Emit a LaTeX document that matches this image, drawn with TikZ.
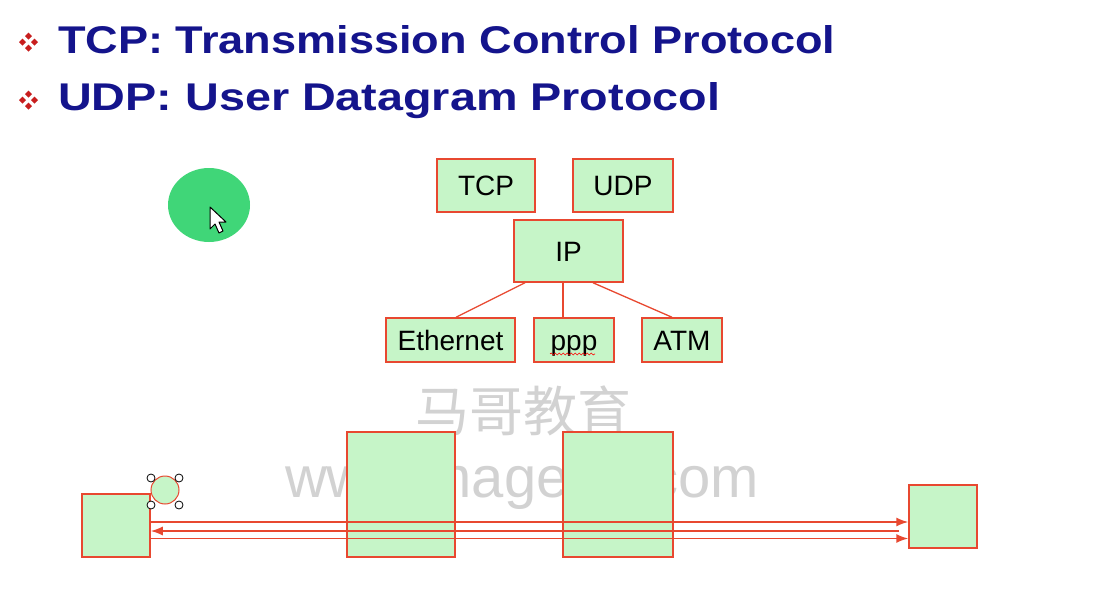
\documentclass[tikz,border=0pt]{standalone}
\usepackage{fontspec}
\setmainfont{Liberation Sans}
\newfontfamily\cjk{Noto Sans CJK SC}
\usetikzlibrary{arrows.meta,calc,decorations.pathmorphing}

\definecolor{boxfill}{RGB}{198,245,200}
\definecolor{boxline}{RGB}{232,72,48}
\definecolor{titleblue}{RGB}{20,20,140}
\definecolor{bulletred}{RGB}{200,30,30}
\definecolor{spotgreen}{RGB}{64,214,120}

\tikzset{
  layer/.style={draw=boxline, fill=boxfill, line width=1.5pt, inner sep=0pt,
    text height=20pt, text depth=0pt, font=\fontsize{28}{30}\selectfont},
  link/.style={draw=boxline, line width=1.3pt},
  flow/.style={draw=boxline, line width=1.5pt, -{Latex[length=12pt,width=9pt]}},
}

\begin{document}
\begin{tikzpicture}[x=1pt,y=-1pt]
		\useasboundingbox[fill=white] (0,0) rectangle (1112,597);

		% bullets
		\foreach \y in {42,100} {
			\foreach \dx/\dy in {-6/0,6/0,0/-6,0/6}
				\fill[bulletred] (28.5+\dx,\y+\dy-3.5) -- ++(3.5,3.5) -- ++(-3.5,3.5) -- ++(-3.5,-3.5) -- cycle;
		}
		\node[anchor=base west, inner sep=0pt, text=titleblue] (tcpline) at (58,53)
			{\resizebox{777pt}{28pt}{\bfseries TCP: Transmission Control Protocol}};
		\node[anchor=base west, inner sep=0pt, text=titleblue] (udpline) at (58,110)
			{\resizebox{662pt}{28pt}{\bfseries UDP: User Datagram Protocol}};

		% pointer
		\fill[spotgreen] (209,205) ellipse (41 and 37);
		\draw[fill=white, line width=1pt, line join=round] (210,207) -- ++(0,22) -- ++(5,-5) -- ++(4,9) -- ++(4,-2) -- ++(-4,-9) -- ++(7,0) -- cycle;

		% watermark
		\node[text=gray!35, inner sep=0pt, font=\cjk\fontsize{54}{54}\selectfont] (wmcn) at (523,411) {马哥教育};
		\node[text=gray!35, inner sep=0pt, anchor=base, font=\fontsize{58}{58}\selectfont] (wmurl) at (522,497) {www.magedu.com};

		% protocol stack
		\node[layer, minimum width=98pt, minimum height=53pt] (tcp) at (486,185.5) {TCP};
		\node[layer, minimum width=100pt, minimum height=53pt] (udp) at (623,185.5) {UDP};
		\node[layer, minimum width=109pt, minimum height=62pt] (ip) at (568.5,251) {IP};
		\node[layer, minimum width=129pt, minimum height=44pt] (eth) at (450.5,340) {Ethernet};
		\node[layer, minimum width=80pt, minimum height=44pt] (ppp) at (574,340) {ppp};
		\node[layer, minimum width=80pt, minimum height=44pt] (atm) at (682,340) {ATM};

		\draw[link] ([xshift=-43.5pt]ip.south) -- ([xshift=5.5pt]eth.north);
		\draw[link] ([xshift=-5.5pt]ip.south) -- ([xshift=-11pt]ppp.north);
		\draw[link] ([xshift=24.5pt]ip.south) -- ([xshift=-10pt]atm.north);
		\draw[red, line width=0.6pt, decorate, decoration={snake, amplitude=1pt, segment length=4pt}] (550,354) -- (595,354);

		% hosts and routers
		\node[layer, minimum width=68pt, minimum height=63pt] (hostA) at (116,525.5) {};
		\node[layer, minimum width=108pt, minimum height=125pt] (routerA) at (401,494.5) {};
		\node[layer, minimum width=110pt, minimum height=125pt] (routerB) at (618,494.5) {};
		\node[layer, minimum width=68pt, minimum height=63pt] (hostB) at (943,516.5) {};

		\coordinate (midend) at (899,531);
		\draw[flow] (hostA.east |- 0,522) -- (hostB.west |- 0,522);
		\draw[flow] (midend) -- (hostA.east |- midend);
		\draw[flow] (hostA.east |- 0,538.5) -- (hostB.west |- 0,538.5);

		% selected packet
		\node[circle, draw=boxline, fill=boxfill, line width=1pt, minimum size=28pt, inner sep=0pt] (pkt) at (165,490) {};
		\foreach \dx/\dy in {-14/-12,14/-12,-14/15,14/15}
			\draw[fill=white, line width=0.8pt] ($(pkt)+(\dx,\dy)$) circle (4);
	\end{tikzpicture}
\end{document}
